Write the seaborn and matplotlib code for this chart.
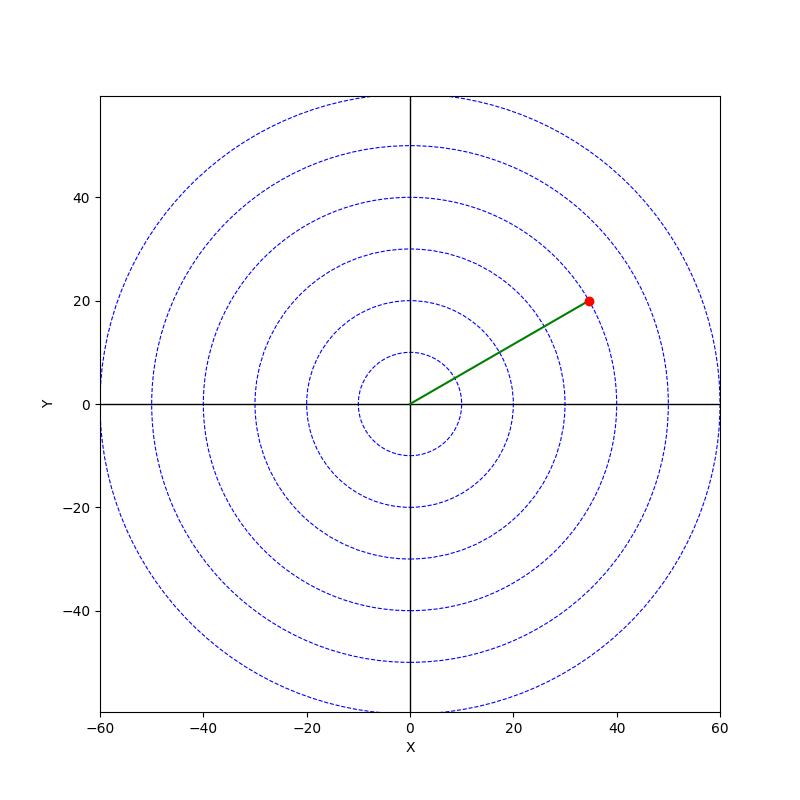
import matplotlib
matplotlib.use("Agg")
import matplotlib.pyplot as plt
import seaborn as sns
import pandas as pd
from matplotlib.patches import Circle

radii = [10, 20, 30, 40, 50, 60]
vec_x = [0, 34.64]
vec_y = [0, 20]
pt_x = [34.64]
pt_y = [20]

fig, ax = plt.subplots(figsize=(8, 8), dpi=100)

for r in radii:
    ax.add_patch(Circle((0, 0), r, fill=False, edgecolor="blue",
                        linestyle="--", linewidth=0.8))

ax.axhline(0, color="black", linewidth=1)
ax.axvline(0, color="black", linewidth=1)

sns.lineplot(x=vec_x, y=vec_y, ax=ax, color="green", linewidth=1.5,
             sort=False, estimator=None)
sns.scatterplot(x=pt_x, y=pt_y, ax=ax, color="red", s=50, edgecolor="red",
                linewidth=0, zorder=5)

ax.set_xlim(-60, 60)
ax.set_ylim(-59.61, 59.61)
ax.set_xlabel("X")
ax.set_ylabel("Y")

fig.savefig("out.png", dpi=100)
